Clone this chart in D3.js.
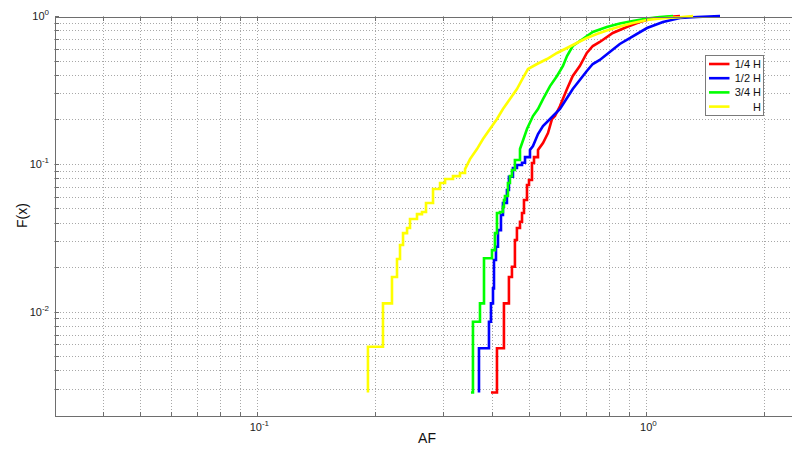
<!DOCTYPE html>
<html>
<head>
<meta charset="utf-8">
<script src="https://cdn.jsdelivr.net/npm/d3@7/dist/d3.min.js"></script>
<style>
  html, body { margin: 0; padding: 0; background: #fff; }
  svg { display: block; font-family: Arial, "Liberation Sans", sans-serif; }
  .grid line { stroke: #a8a8a8; stroke-width: 1; stroke-dasharray: 1,2; }
  .axis path, .axis line { stroke: #6e6e6e; shape-rendering: crispEdges; }
  .tick-label { font-size: 11px; fill: #222; }
  .axis-title { font-size: 14px; fill: #111; }
  .legend-text { font-size: 11px; fill: #111; }
</style>
</head>
<body>
<svg id="chart" width="792" height="452"></svg>
<script>
const quarterAF = [0.3985, 0.4129, 0.4303, 0.4432, 0.4512, 0.4592, 0.4647, 0.4732, 0.4789, 0.4845, 0.4932, 0.4991, 0.5080, 0.5141, 0.5264, 0.5422, 0.5585, 0.5720, 0.5821, 0.5996, 0.6250, 0.6467, 0.6742, 0.7028, 0.7281, 0.7589, 0.8196, 0.8904, 0.9616, 1.040, 1.129, 1.220];
const quarterF = [0.00284, 0.00565, 0.01138, 0.01714, 0.02014, 0.0305, 0.0368, 0.0406, 0.0465, 0.0569, 0.0719, 0.0777, 0.1012, 0.1111, 0.1240, 0.1383, 0.1616, 0.2010, 0.2105, 0.2460, 0.3206, 0.3929, 0.4590, 0.5620, 0.6266, 0.6673, 0.7673, 0.8425, 0.9108, 0.965, 0.9845, 1.0];

const halfAF = [0.3712, 0.3712, 0.3938, 0.3985, 0.4033, 0.4057, 0.4105, 0.4154, 0.4228, 0.4278, 0.4380, 0.4432, 0.4539, 0.4647, 0.4789, 0.4875, 0.5020, 0.5110, 0.5264, 0.5422, 0.5653, 0.5821, 0.5996, 0.6250, 0.6467, 0.6742, 0.7028, 0.7281, 0.7589, 0.8050, 0.8543, 0.9064, 1.0035, 1.103, 1.220, 1.349, 1.546];
const halfF = [0.00284, 0.00565, 0.00855, 0.01138, 0.01438, 0.02234, 0.02749, 0.0356, 0.0451, 0.0543, 0.0665, 0.0818, 0.0937, 0.0982, 0.1017, 0.1111, 0.1240, 0.1318, 0.1591, 0.1803, 0.2010, 0.2172, 0.2349, 0.2787, 0.3206, 0.3690, 0.4246, 0.4733, 0.5040, 0.5704, 0.6469, 0.7097, 0.8295, 0.9108, 0.9693, 0.9845, 1.0];

const threeQuarterAF = [0.3540, 0.3582, 0.3734, 0.3824, 0.4009, 0.4080, 0.4129, 0.4203, 0.4278, 0.4303, 0.4329, 0.4406, 0.4459, 0.4512, 0.4592, 0.4732, 0.4932, 0.5110, 0.5264, 0.5422, 0.5653, 0.5891, 0.6103, 0.6250, 0.6467, 0.6863, 0.7281, 0.7910, 0.8543, 0.9226, 1.0035, 1.082, 1.171];
const threeQuarterF = [0.00284, 0.00855, 0.01138, 0.02296, 0.0261, 0.0340, 0.0465, 0.0472, 0.0513, 0.0569, 0.0606, 0.0742, 0.0826, 0.0908, 0.1061, 0.1259, 0.1719, 0.2105, 0.2349, 0.2743, 0.3357, 0.3929, 0.4590, 0.5363, 0.6266, 0.6987, 0.7793, 0.8425, 0.89, 0.9251, 0.962, 0.9845, 1.0];

const fullAF = [0.1924, 0.1924, 0.2103, 0.2218, 0.2285, 0.2326, 0.2368, 0.2425, 0.2468, 0.2572, 0.2649, 0.2713, 0.2828, 0.2948, 0.3037, 0.3183, 0.3317, 0.3418, 0.3520, 0.3668, 0.3801, 0.3961, 0.4129, 0.4278, 0.4459, 0.4647, 0.4817, 0.4961, 0.5233, 0.5553, 0.5891, 0.6250, 0.6622, 0.7028, 0.7455, 0.7910, 0.8543, 0.9226, 1.0035, 1.103, 1.220, 1.318];
const fullF = [0.00284, 0.00579, 0.01138, 0.01714, 0.0227, 0.02824, 0.0340, 0.0368, 0.0423, 0.0457, 0.0472, 0.0543, 0.0676, 0.0742, 0.0789, 0.0826, 0.0867, 0.0922, 0.1077, 0.1259, 0.1472, 0.1719, 0.2010, 0.2349, 0.2743, 0.3206, 0.3809, 0.4380, 0.4733, 0.5117, 0.5620, 0.6075, 0.6568, 0.7097, 0.7553, 0.798, 0.849, 0.8968, 0.9396, 0.965, 0.980, 1.0];

// how many leading points show clear stair steps (the rest is dense enough to look smooth)
const quarterSteps = 15;
const halfSteps = 17;
const threeQuarterSteps = 16;
const fullSteps = 18;

const seriesNames = ['1/4 H', '1/2 H', '3/4 H', 'H'];
const seriesColors = ['#ff0000', '#0000ff', '#00ff00', '#ffff00'];

const xMajorTicks = [0.1, 1];
const yMajorTicks = [0.01, 0.1, 1];
const xDomain = [0.03, 3];
const yDomain = [0.002, 1];

const svg = d3.select('#chart');
const height = 452;
const margin = { top: 16, left: 54, bottom: 37 };
const plotRight = 832; // right edge of the axes lies outside the picture
const plotBottom = height - margin.bottom;

const x = d3.scaleLog().domain(xDomain).range([margin.left, plotRight]);
const y = d3.scaleLog().domain(yDomain).range([plotBottom, margin.top]);

const xGridTicks = x.ticks().filter(v => v > xDomain[0] * 1.001 && v < xDomain[1] * 0.999);
const yGridTicks = y.ticks().filter(v => v > yDomain[0] * 1.001 && v < yDomain[1] * 0.999);

// grid
const grid = svg.append('g').attr('class', 'grid');
grid.selectAll('.gx').data(xGridTicks).enter().append('line')
  .attr('x1', d => Math.round(x(d)) + 0.5).attr('x2', d => Math.round(x(d)) + 0.5)
  .attr('y1', margin.top).attr('y2', plotBottom);
grid.selectAll('.gy').data(yGridTicks).enter().append('line')
  .attr('x1', margin.left).attr('x2', plotRight)
  .attr('y1', d => Math.round(y(d)) + 0.5).attr('y2', d => Math.round(y(d)) + 0.5);

// curves
svg.append('clipPath').attr('id', 'plot-clip')
  .append('rect')
  .attr('x', margin.left).attr('y', margin.top - 2)
  .attr('width', plotRight - margin.left).attr('height', plotBottom - margin.top + 2);

const series = [
  { af: quarterAF, f: quarterF, steps: quarterSteps },
  { af: halfAF, f: halfF, steps: halfSteps },
  { af: threeQuarterAF, f: threeQuarterF, steps: threeQuarterSteps },
  { af: fullAF, f: fullF, steps: fullSteps }
];

// stair corners for the sparse lower part, straight segments above it
function vertices(s) {
  const pts = [];
  s.af.forEach((v, i) => {
    pts.push([v, s.f[i]]);
    if (i < s.steps - 1) pts.push([s.af[i + 1], s.f[i]]);
  });
  return pts;
}

const line = d3.line()
  .x(d => x(d[0]))
  .y(d => y(d[1]));

svg.append('g').attr('clip-path', 'url(#plot-clip)')
  .selectAll('path')
  .data(series)
  .enter()
  .append('path')
  .attr('d', s => line(vertices(s)))
  .attr('fill', 'none')
  .attr('stroke', (s, i) => seriesColors[i])
  .attr('stroke-width', 2.6)
  .attr('stroke-linejoin', 'miter');

// axes
const allYTicks = yGridTicks.concat([1]);

svg.append('g').attr('class', 'axis')
  .attr('transform', `translate(0,${plotBottom + 0.5})`)
  .call(d3.axisBottom(x).tickValues(xGridTicks).tickSizeInner(-4).tickSizeOuter(0).tickFormat(''));

svg.append('g').attr('class', 'axis')
  .attr('transform', `translate(0,${margin.top + 0.5})`)
  .call(d3.axisTop(x).tickValues(xGridTicks).tickSizeInner(-4).tickSizeOuter(0).tickFormat(''));

svg.append('g').attr('class', 'axis')
  .attr('transform', `translate(${margin.left + 0.5},0)`)
  .call(d3.axisLeft(y).tickValues(allYTicks).tickSizeInner(-4).tickSizeOuter(0).tickFormat(''));

// tick labels as 10^n
function addPowerLabel(g, value, px, py, anchor) {
  const exp = Math.round(Math.log10(value));
  const t = g.append('text').attr('class', 'tick-label')
    .attr('x', px).attr('y', py).attr('text-anchor', anchor);
  t.append('tspan').text('10');
  t.append('tspan').attr('dy', -5).style('font-size', '8px').text(exp);
}

const labels = svg.append('g');
xMajorTicks.forEach(v => addPowerLabel(labels, v, x(v) + 2, plotBottom + 16, 'middle'));
yMajorTicks.forEach(v => addPowerLabel(labels, v, margin.left - 5, y(v) + 4, 'end'));

svg.append('text').attr('class', 'axis-title')
  .attr('x', 427).attr('y', 443)
  .attr('text-anchor', 'middle')
  .text('AF');

svg.append('text').attr('class', 'axis-title')
  .attr('transform', `translate(27, ${(margin.top + plotBottom) / 2}) rotate(-90)`)
  .attr('text-anchor', 'middle')
  .text('F(x)');

// legend
const legend = svg.append('g').attr('transform', 'translate(705.5,55.5)');
legend.append('rect')
  .attr('width', 58).attr('height', 60)
  .attr('fill', '#fff').attr('stroke', '#7a7a7a');
seriesNames.forEach((name, i) => {
  const ly = 8.5 + i * 14.2;
  legend.append('line')
    .attr('x1', 3.5).attr('x2', 24)
    .attr('y1', ly).attr('y2', ly)
    .attr('stroke', seriesColors[i]).attr('stroke-width', 2.6);
  legend.append('text').attr('class', 'legend-text')
    .attr('x', 55.5).attr('y', ly + 4)
    .attr('text-anchor', 'end')
    .text(name);
});
</script>
</body>
</html>
